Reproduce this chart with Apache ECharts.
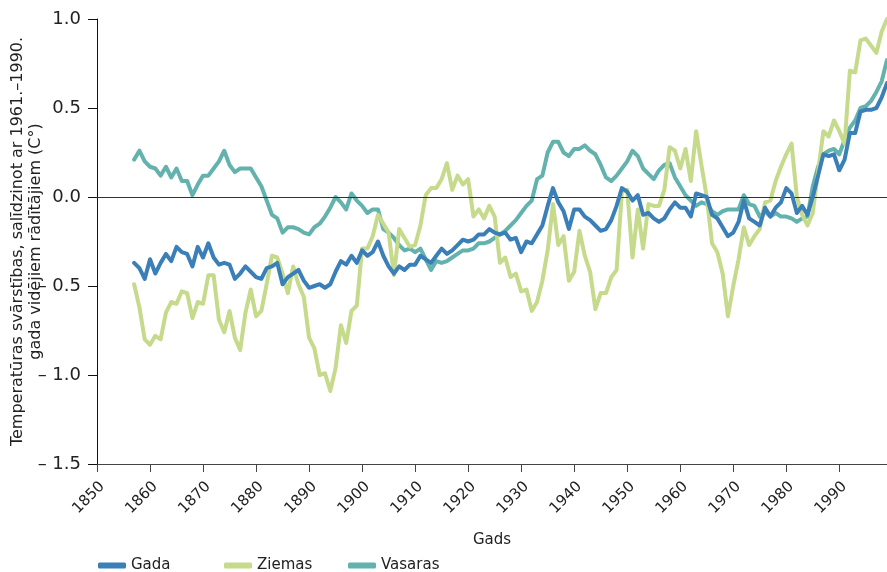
<!DOCTYPE html>
<html>
<head>
<meta charset="utf-8">
<script src="https://cdn.jsdelivr.net/npm/echarts@6/dist/echarts.min.js"></script>
<style>
  html, body { margin: 0; padding: 0; background: #fff; }
  #chart { width: 887px; height: 572px; }
</style>
</head>
<body>
<div id="chart"></div>
<script>
// Temperature anomalies vs. 1961–1990 mean, by year
const firstYear = 1857;
const lastYear = 1999;

const gada = [
  -0.37, -0.40, -0.46, -0.35, -0.43, -0.37, -0.32, -0.36, -0.28, -0.31,
  -0.32, -0.39, -0.28, -0.34, -0.26, -0.34, -0.38, -0.37, -0.38, -0.46,
  -0.43, -0.39, -0.42, -0.45, -0.46, -0.40, -0.39, -0.37, -0.49, -0.45,
  -0.43, -0.41, -0.47, -0.51, -0.50, -0.49, -0.51, -0.49, -0.42, -0.36,
  -0.38, -0.33, -0.37, -0.30, -0.33, -0.31, -0.25, -0.33, -0.39, -0.43,
  -0.39, -0.41, -0.38, -0.38, -0.33, -0.35, -0.37, -0.33, -0.29, -0.32,
  -0.30, -0.27, -0.24, -0.25, -0.24, -0.21, -0.21, -0.18, -0.20, -0.21,
  -0.20, -0.24, -0.23, -0.31, -0.25, -0.26, -0.21, -0.16, -0.05, 0.05,
  -0.03, -0.08, -0.18, -0.07, -0.07, -0.11, -0.13, -0.16, -0.19, -0.18,
  -0.13, -0.05, 0.05, 0.03, -0.02, 0.01, -0.10, -0.09, -0.12, -0.14,
  -0.12, -0.07, -0.03, -0.06, -0.06, -0.11, 0.02, 0.01, 0.00, -0.10,
  -0.12, -0.17, -0.22, -0.20, -0.14, -0.02, -0.12, -0.14, -0.16, -0.06,
  -0.11, -0.06, -0.03, 0.05, 0.02, -0.09, -0.05, -0.10, 0.00, 0.12,
  0.24, 0.23, 0.24, 0.15, 0.21, 0.36, 0.36, 0.48, 0.49, 0.49,
  0.50, 0.56, 0.64
];

const ziemas = [
  -0.49, -0.62, -0.80, -0.83, -0.78, -0.80, -0.65, -0.59, -0.60, -0.53,
  -0.54, -0.68, -0.59, -0.60, -0.44, -0.44, -0.69, -0.76, -0.64, -0.79,
  -0.86, -0.65, -0.52, -0.67, -0.64, -0.49, -0.33, -0.34, -0.43, -0.54,
  -0.39, -0.49, -0.56, -0.79, -0.85, -1.00, -0.99, -1.09, -0.96, -0.72,
  -0.82, -0.64, -0.61, -0.29, -0.29, -0.22, -0.10, -0.15, -0.20, -0.44,
  -0.18, -0.23, -0.28, -0.27, -0.16, 0.01, 0.05, 0.05, 0.10, 0.19,
  0.04, 0.12, 0.07, 0.10, -0.11, -0.07, -0.12, -0.05, -0.11, -0.37,
  -0.34, -0.45, -0.43, -0.53, -0.52, -0.64, -0.59, -0.47, -0.30, -0.04,
  -0.27, -0.22, -0.47, -0.42, -0.19, -0.33, -0.42, -0.63, -0.54, -0.54,
  -0.45, -0.41, 0.03, 0.04, -0.34, -0.07, -0.29, -0.04, -0.05, -0.05,
  0.04, 0.28, 0.26, 0.16, 0.27, 0.09, 0.37, 0.18, 0.00, -0.26,
  -0.31, -0.43, -0.67, -0.50, -0.35, -0.17, -0.27, -0.22, -0.18, -0.03,
  -0.02, 0.09, 0.17, 0.24, 0.30, 0.00, -0.10, -0.16, -0.09, 0.14,
  0.37, 0.34, 0.43, 0.37, 0.30, 0.71, 0.70, 0.88, 0.89, 0.85,
  0.81, 0.93, 1.00
];

const vasaras = [
  0.21, 0.26, 0.20, 0.17, 0.16, 0.12, 0.17, 0.11, 0.16, 0.09,
  0.09, 0.01, 0.07, 0.12, 0.12, 0.16, 0.20, 0.26, 0.18, 0.14,
  0.16, 0.16, 0.16, 0.11, 0.06, -0.02, -0.10, -0.12, -0.20, -0.17,
  -0.17, -0.18, -0.20, -0.21, -0.17, -0.15, -0.11, -0.06, 0.00, -0.03,
  -0.07, 0.02, -0.02, -0.05, -0.09, -0.07, -0.07, -0.18, -0.20, -0.23,
  -0.27, -0.30, -0.29, -0.31, -0.29, -0.35, -0.41, -0.36, -0.37, -0.36,
  -0.34, -0.32, -0.30, -0.30, -0.29, -0.26, -0.26, -0.25, -0.23, -0.21,
  -0.19, -0.16, -0.13, -0.09, -0.05, -0.02, 0.10, 0.12, 0.25, 0.31,
  0.31, 0.25, 0.23, 0.27, 0.27, 0.29, 0.26, 0.24, 0.18, 0.11,
  0.09, 0.12, 0.16, 0.20, 0.26, 0.23, 0.16, 0.13, 0.10, 0.15,
  0.18, 0.19, 0.11, 0.06, 0.01, -0.02, -0.05, -0.03, -0.04, -0.08,
  -0.10, -0.08, -0.07, -0.07, -0.07, 0.01, -0.04, -0.05, -0.11, -0.08,
  -0.11, -0.09, -0.11, -0.11, -0.12, -0.14, -0.12, -0.11, 0.06, 0.17,
  0.24, 0.26, 0.27, 0.24, 0.32, 0.39, 0.43, 0.50, 0.51, 0.54,
  0.59, 0.65, 0.77
];

const decadeTicks = [1850, 1860, 1870, 1880, 1890, 1900, 1910, 1920, 1930, 1940, 1950, 1960, 1970, 1980, 1990];
const seriesNames = ['Gada', 'Ziemas', 'Vasaras'];
const seriesColors = ['#3a7fb7', '#c5da8b', '#63b2ad'];

const years = [];
for (let y = firstYear; y <= lastYear; y++) years.push(y);
const pairs = vals => years.map((y, i) => [y, vals[i]]);

const font = 'DejaVu Sans, Verdana, sans-serif';
const textColor = '#222';

function lineSeries(name, vals, color, z) {
  return {
    name: name,
    type: 'line',
    data: pairs(vals),
    showSymbol: false,
    symbol: 'none',
    z: z,
    lineStyle: { color: color, width: 4, join: 'round', cap: 'round' },
    itemStyle: { color: color },
    emphasis: { disabled: true }
  };
}

const series = [
  lineSeries(seriesNames[2], vasaras, seriesColors[2], 3),
  lineSeries(seriesNames[1], ziemas, seriesColors[1], 4),
  lineSeries(seriesNames[0], gada, seriesColors[0], 5)
];
// zero reference line
series[0].markLine = {
  silent: true,
  symbol: 'none',
  label: { show: false },
  lineStyle: { color: '#333', width: 1, type: 'solid' },
  data: [{ yAxis: 0 }]
};

function legendAt(name, left) {
  return {
    data: [name],
    left: left,
    top: 553,
    icon: 'roundRect',
    itemWidth: 28,
    itemHeight: 6,
    itemGap: 0,
    selectedMode: false,
    textStyle: { fontFamily: font, fontSize: 15, color: textColor }
  };
}

const chart = echarts.init(document.getElementById('chart'), null, { renderer: 'canvas' });
chart.setOption({
  animation: false,
  color: seriesColors,
  grid: { left: 97, top: 19, right: 0, bottom: 108, containLabel: false, outerBoundsMode: 'none' },
  legend: [
    legendAt(seriesNames[0], 93),
    legendAt(seriesNames[1], 219),
    legendAt(seriesNames[2], 343)
  ],
  xAxis: {
    type: 'value',
    min: 1850,
    max: lastYear,
    interval: 10,
    name: 'Gads',
    nameLocation: 'middle',
    nameGap: 69,
    nameMoveOverlap: false,
    nameTextStyle: { fontFamily: font, fontSize: 15, color: textColor },
    axisLine: { show: true, onZero: false, lineStyle: { color: '#444', width: 1 } },
    axisTick: { show: true, length: 8, customValues: decadeTicks, lineStyle: { color: '#444' } },
    axisLabel: {
      rotate: 45,
      margin: 15,
      verticalAlign: 'top',
      customValues: decadeTicks,
      fontFamily: font,
      fontSize: 15,
      color: textColor,
      formatter: v => String(v)
    },
    splitLine: { show: false }
  },
  yAxis: {
    type: 'value',
    min: -1.5,
    max: 1.0,
    interval: 0.5,
    name: 'Temperatūras svārstības, salīdzinot ar 1961.–1990.\ngada vidējiem rādītājiem (C°)',
    nameLocation: 'middle',
    nameGap: 52,
    nameRotate: 90,
    nameMoveOverlap: false,
    nameTextStyle: { fontFamily: font, fontSize: 16, color: textColor, lineHeight: 18, align: 'center' },
    axisLine: { show: true, lineStyle: { color: '#111', width: 1 } },
    axisTick: { show: true, length: 9, lineStyle: { color: '#111' } },
    axisLabel: {
      margin: 16,
      fontFamily: font,
      fontSize: 18,
      color: textColor,
      formatter: v => (v < 0 ? '\u2013 ' + Math.abs(v).toFixed(1) : v.toFixed(1))
    },
    splitLine: { show: false }
  },
  series: series
});
</script>
</body>
</html>
